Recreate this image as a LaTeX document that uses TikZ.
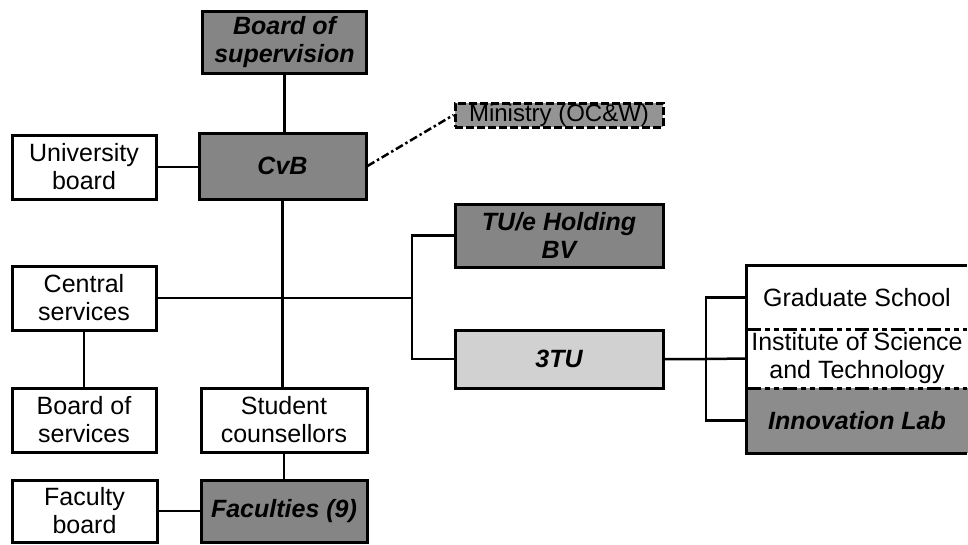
\documentclass[tikz,border=0pt]{standalone}
\usepackage{fontspec}
\setmainfont{Liberation Sans}
\begin{document}
\begin{tikzpicture}[x=1pt,y=-1pt,
  box/.style={draw, line width=3pt, align=center, inner sep=0pt, fill=white,
    font=\fontsize{25}{28}\selectfont},
  dark/.style={box, fill=black!48, font=\fontsize{25}{28}\selectfont\bfseries\itshape},
  light/.style={box, fill=black!18, font=\fontsize{25}{28}\selectfont\bfseries\itshape},
  link/.style={line width=2.5pt},
  sep/.style={line width=3pt, dash pattern=on 14pt off 4pt on 5pt off 4pt on 5pt off 4pt},
  cell/.style={inner sep=0pt, align=center, minimum width=220pt, font=\fontsize{25}{28}\selectfont}
]
\useasboundingbox (0,0) rectangle (968,544);
\clip (0,0) rectangle (968,544);

% nodes
\node[dark, minimum width=164pt, minimum height=62pt] (bos) at (284.5,42.5) {Board of\\supervision};
\node[dark, minimum width=167pt, minimum height=66pt] (cvb) at (282.5,166) {CvB};
\node[box, minimum width=144pt, minimum height=64pt] (ub) at (84,167) {University\\board};
\node[box, fill=black!42, dash pattern=on 8pt off 3pt, minimum width=208pt, minimum height=24pt,
  font=\fontsize{24}{26}\selectfont] (min) at (559,115) {Ministry (OC\&W)};
\node[dark, minimum width=208pt, minimum height=63pt] (tue) at (559,235.5) {TU/e Holding\\BV};
\node[box, minimum width=144pt, minimum height=64pt] (cs) at (84,298) {Central\\services};
\node[light, minimum width=208pt, minimum height=58pt] (tu3) at (559,359) {3TU};
\node[box, minimum width=144pt, minimum height=64pt] (bsv) at (84,420) {Board of\\services};
\node[box, minimum width=166pt, minimum height=64pt] (sc) at (284,420) {Student\\counsellors};
\node[box, minimum width=145pt, minimum height=62pt] (fb) at (84.5,511) {Faculty\\board};
\node[dark, minimum width=166pt, minimum height=62pt] (fac) at (284,511) {Faculties (9)};

% right group
\fill[black!45] (747,388) rectangle (970,453);
\node[cell, minimum height=63pt] (gs) at (857,297.5) {Graduate School};
\node[cell, minimum height=59pt] (ist) at (857,358.5) {Institute of Science\\and Technology};
\node[cell, minimum height=65pt, font=\fontsize{25}{28}\selectfont\bfseries\itshape] (il) at (857,420.5) {Innovation Lab};
\draw[line width=3pt] (gs.north east) -- (gs.north west) -- (il.south west) -- (il.south east);
\draw[sep] (gs.south west) -- (gs.south east);
\draw[sep] (ist.south west) -- (ist.south east);

% connectors
\coordinate (j1) at (412,298);
\coordinate (j2) at (706,359);
\draw[link] (bos.south) -- (bos.south |- cvb.north);
\draw[link] (ub.east) -- (ub.east -| cvb.west);
\draw[link, dash pattern=on 8pt off 3pt on 2.5pt off 3pt] (cvb.east) -- (min.west);
\draw[link] (cvb.south) -- (cvb.south |- sc.north);
\draw[link] (cs.east) -- (j1);
\draw[link] (tue.west) -| (j1) |- (tu3.west);
\draw[link] (cs.south) -- (cs.south |- bsv.north);
\draw[link] (sc.south) -- (sc.south |- fac.north);
\draw[link] (fb.east) -- (fac.west);
\draw[link] (tu3.east) -- (j2) -- (ist.west);
\draw[link] (gs.west) -| (j2) |- (il.west);
\end{tikzpicture}
\end{document}
